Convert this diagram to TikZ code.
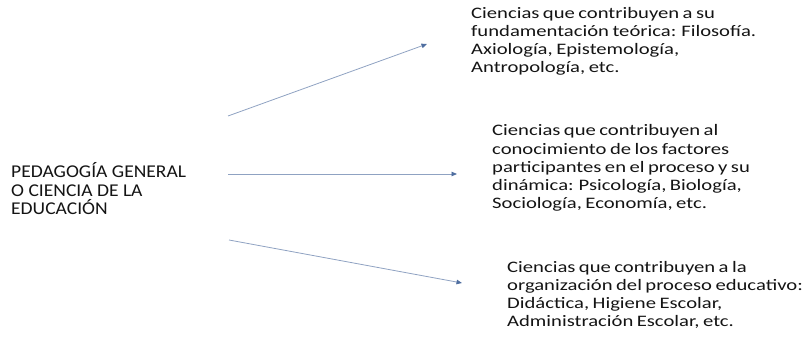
\documentclass[tikz,border=0pt]{standalone}
\usepackage{fontspec}
\setmainfont{Carlito}
\newfontfamily\widefont{Carlito}[FakeStretch=1.29,WordSpace=0.75]
\newfontfamily\headfont{Carlito}[FakeStretch=1.085]
\usepackage{tikz}
\usetikzlibrary{arrows.meta, positioning}
\usepackage{xcolor}
\definecolor{linkblue}{RGB}{143,162,194}
\definecolor{tipblue}{RGB}{79,110,160}
\definecolor{inkgray}{RGB}{20,20,20}

\begin{document}
\begin{tikzpicture}[x=1pt, y=-1pt,
		link/.style={-{Triangle[length=5.5pt, width=4.5pt, color=tipblue]}, linkblue, line width=0.8pt},
		branch/.style={anchor=base west, align=left, inner sep=0pt, text=inkgray, font=\widefont\fontsize{16}{18.3}\selectfont},
		root/.style={anchor=base west, align=left, inner sep=0pt, text=inkgray, font=\headfont\fontsize{18}{18.5}\selectfont}]
			\useasboundingbox (0,0) rectangle (807,339);
			
			% Define the key coordinates
			% (start and tip of each arrow)
			\coordinate (TopFrom) at (228,116);
			\coordinate (TopTo) at (427,44);
			\coordinate (MidFrom) at (228,174);
			\coordinate (MidTo) at (457,174);
			\coordinate (LowFrom) at (229,240);
			\coordinate (LowTo) at (462,283);
			
			% The general field on the left (placed at its last baseline)
			\node[root] (Pedagogia) at (11,215) {PEDAGOGÍA GENERAL\\O CIENCIA DE LA\\EDUCACIÓN};
			
			% The three groups of sciences
			\node[branch] (Fundamento) at (471,73) {Ciencias que contribuyen a su\\fundamentación teórica: Filosofía.\\Axiología, Epistemología,\\Antropología, etc.};
			\node[branch] (Factores) at (492,209) {Ciencias que contribuyen al\\conocimiento de los factores\\participantes en el proceso y su\\dinámica: Psicología, Biología,\\Sociología, Economía, etc.};
			\node[branch] (Organizacion) at (507,327) {Ciencias que contribuyen a la\\organización del proceso educativo:\\Didáctica, Higiene Escolar,\\Administración Escolar, etc.};
			
			% Draw the arrows
			\draw[link] (TopFrom) -- (TopTo);
			\draw[link] (MidFrom) -- (MidTo);
			\draw[link] (LowFrom) -- (LowTo);
			
		\end{tikzpicture}
\end{document}
